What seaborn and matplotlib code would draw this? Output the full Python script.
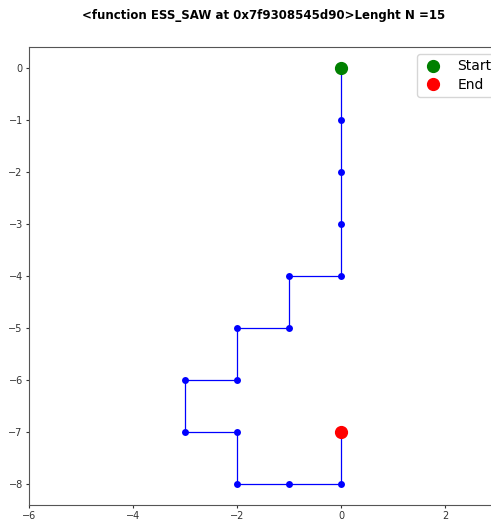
import numpy as np
import pandas as pd
import matplotlib
matplotlib.use("Agg")
import matplotlib.pyplot as plt
import seaborn as sns

# walk coordinates (step order)
walk_x = [0, 0, 0, 0, 0, -1, -1, -2, -2, -3, -3, -2, -2, -1, 0, 0]
walk_y = [0, -1, -2, -3, -4, -4, -5, -5, -6, -6, -7, -7, -8, -8, -8, -7]
N = len(walk_x) - 1

x_ticks = [-6, -4, -2, 0, 2]
y_ticks = [0, -1, -2, -3, -4, -5, -6, -7, -8]

sns.set_style("ticks")
plt.rcParams['font.family'] = ['DejaVu Sans']

df = pd.DataFrame({"x": walk_x, "y": walk_y, "step": range(len(walk_x))})

fig = plt.figure(figsize=(4.91, 5.20), dpi=100)
# axes runs a bit past the right edge (the original image was cropped)
ax_w_px = 475
ax = fig.add_axes([29/491, 15/520, ax_w_px/491, 458/520])

sns.lineplot(data=df, x="x", y="y", sort=False, estimator=None, color="blue",
             linewidth=0.9, marker="o", markersize=5, markeredgewidth=0, ax=ax)
ax.plot(walk_x[0], walk_y[0], "o", color="green", markersize=8.5, linestyle="none", label="Start")
ax.plot(walk_x[-1], walk_y[-1], "o", color="red", markersize=8.5, linestyle="none", label="End")

ax.set_xlim(-6, -6 + ax_w_px / 52)
ax.set_ylim(-8.4, 0.4)
ax.set_xticks(x_ticks)
ax.set_yticks(y_ticks)
ax.set_xticklabels([f"\u2212{abs(t)}" if t < 0 else str(t) for t in x_ticks])
ax.set_yticklabels([f"\u2212{abs(t)}" if t < 0 else str(t) for t in y_ticks])
ax.tick_params(labelsize=7, length=2.5, width=0.8, pad=2, colors="#333333")
for s in ax.spines.values():
    s.set_color("#555555")
    s.set_linewidth(0.8)
ax.set_xlabel("")
ax.set_ylabel("")

leg = ax.legend(loc="upper right", fontsize=10, frameon=True, handlelength=1.5,
                handletextpad=1.0, borderpad=0.4, labelspacing=0.3)
for t in leg.get_texts():
    t.set_color("black")

fig.text(264/491, 1 - 16/520, f"<function ESS_SAW at 0x7f9308545d90>Lenght N ={N}",
         ha="center", va="center", fontsize=8.5, fontweight="bold", color="black")

fig.savefig("out.png", dpi=100)
